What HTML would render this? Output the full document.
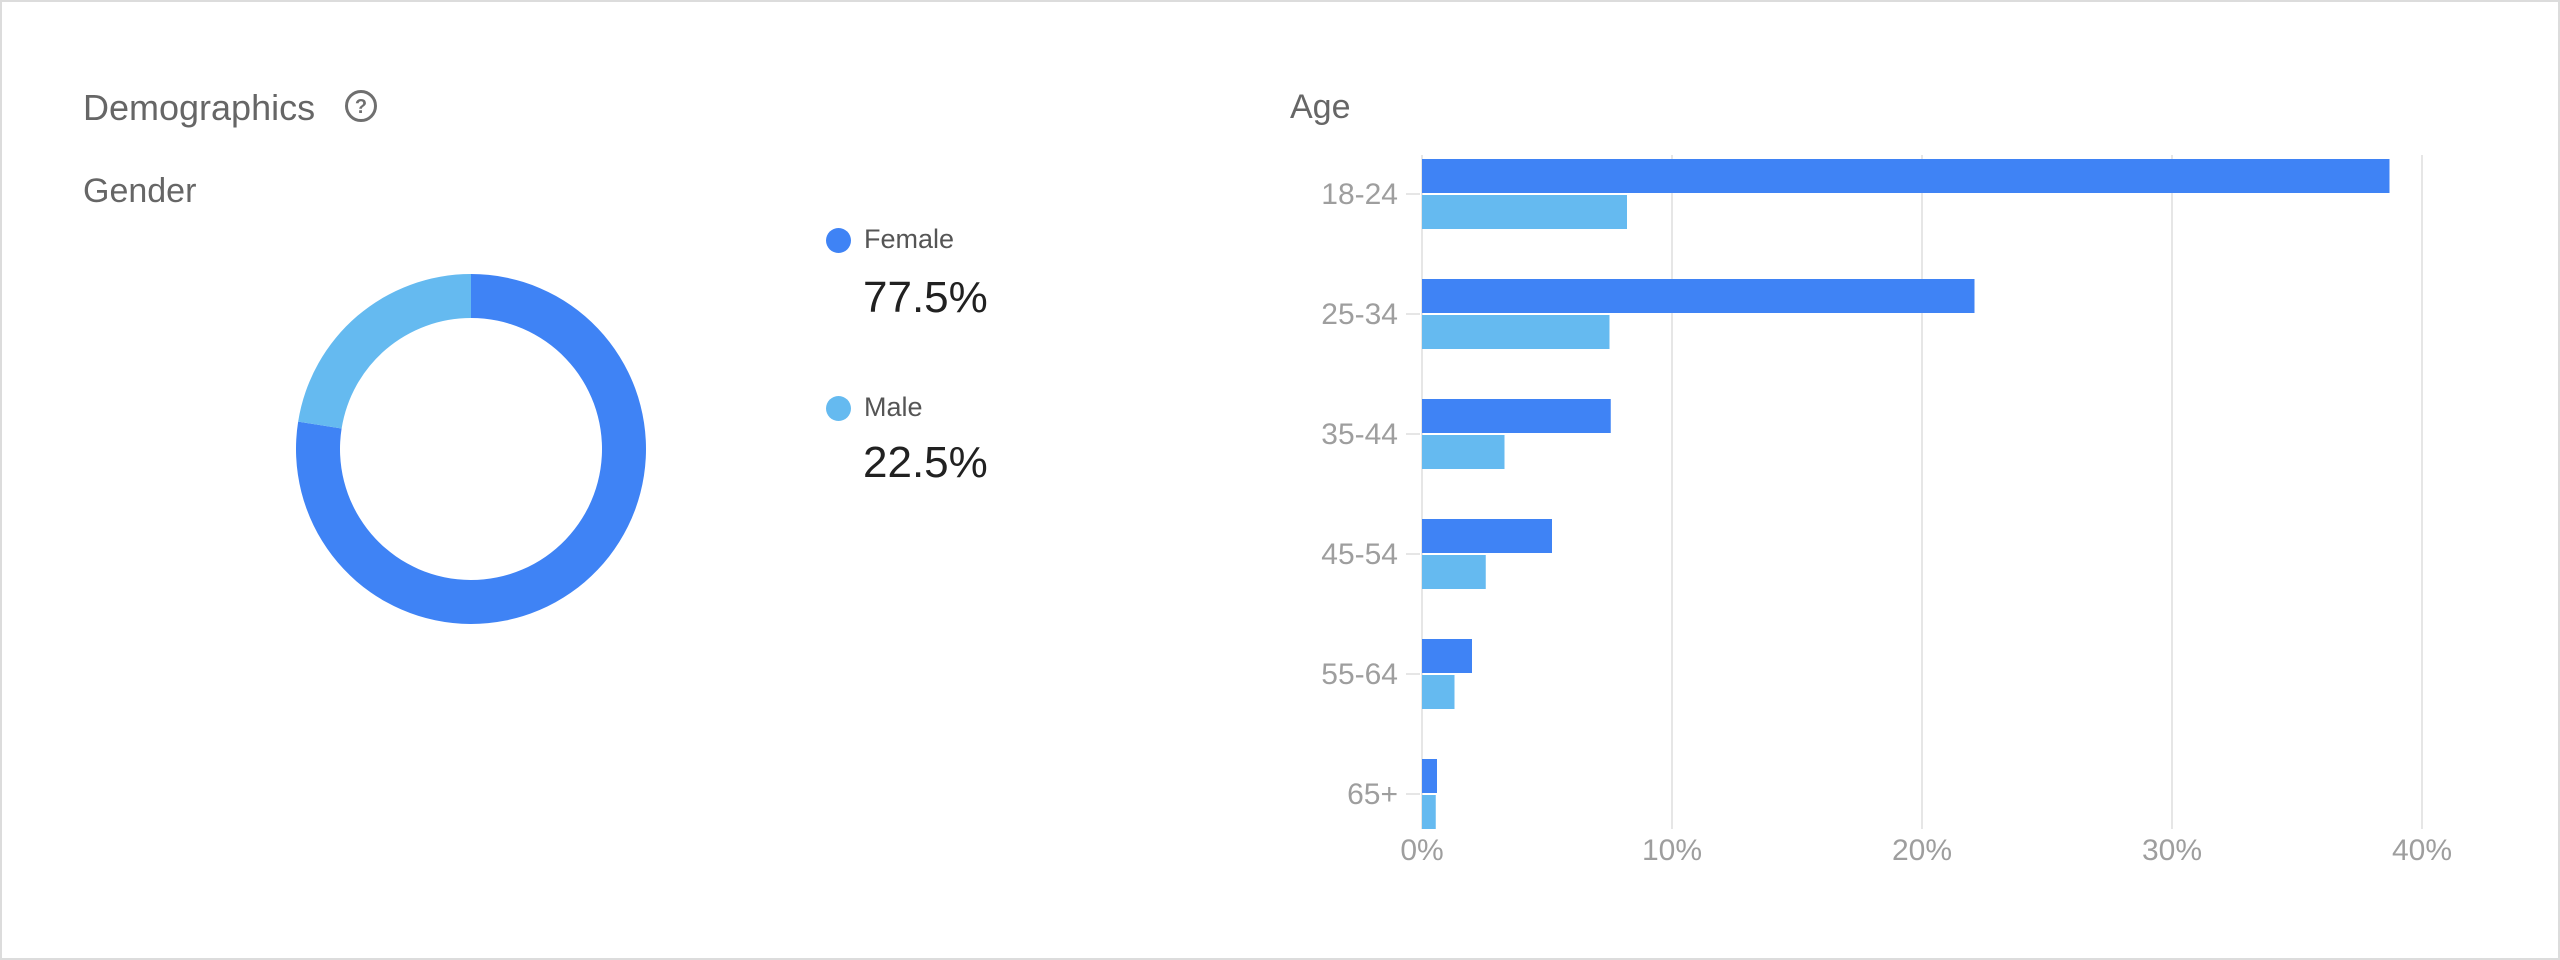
<!DOCTYPE html>
<html><head><meta charset="utf-8"><style>
html,body{margin:0;padding:0;background:#fff;}
body{width:2560px;height:960px;position:relative;overflow:hidden;font-family:"Liberation Sans",sans-serif;}
.frame{position:absolute;left:0;top:0;width:2556px;height:956px;border:2px solid #dcdcdc;}
.t{position:absolute;white-space:nowrap;}
</style></head><body>
<div class="frame"></div>
<div class="t" style="left:83px;top:87px;font-size:36px;color:#666;">Demographics</div>
<svg style="position:absolute;left:343px;top:88px" width="36" height="36" viewBox="0 0 36 36"><circle cx="18" cy="18" r="14.5" fill="none" stroke="#6f6f6f" stroke-width="3"/><text x="18" y="25" font-size="20" text-anchor="middle" fill="#6f6f6f" font-family="Liberation Sans" font-weight="bold">?</text></svg>
<div class="t" style="left:83px;top:172px;font-size:34px;color:#666;">Gender</div>
<div class="t" style="left:1290px;top:88px;font-size:34px;color:#666;">Age</div>

<div>
<div style="position:absolute;left:826px;top:228px;width:25px;height:25px;border-radius:50%;background:#3f83f5"></div>
<div class="t" style="left:864px;top:224px;font-size:27px;color:#555;">Female</div>
<div class="t" style="left:863px;top:273px;font-size:44px;color:#212121;">77.5%</div>
</div>
<div>
<div style="position:absolute;left:826px;top:396px;width:25px;height:25px;border-radius:50%;background:#65baf0"></div>
<div class="t" style="left:864px;top:392px;font-size:27px;color:#555;">Male</div>
<div class="t" style="left:863px;top:438px;font-size:44px;color:#212121;">22.5%</div>
</div>

<svg id="donut" style="position:absolute;left:0;top:0" width="1000" height="960"></svg>
<svg id="bars" style="position:absolute;left:0;top:0" width="2560" height="960"></svg>
<script>
const genderLabels=["Female","Male"];
const genderValues=[77.5,22.5];
const genderColors=["#3f83f5","#65baf0"];
const ageCats=["18-24","25-34","35-44","45-54","55-64","65+"];
const femaleVals=[38.7,22.1,7.55,5.2,2.0,0.6];
const maleVals=[8.2,7.5,3.3,2.55,1.3,0.55];
const xTicks=[0,10,20,30,40];
const NS="http://www.w3.org/2000/svg";
function mk(t,a){const e=document.createElementNS(NS,t);for(const k in a)e.setAttribute(k,a[k]);return e;}
const d=document.getElementById('donut');
const cx=471,cy=449,R=175,r=131;
let start=0;const tot=genderValues.reduce((a,b)=>a+b,0);
genderValues.forEach((v,i)=>{
  const a0=start/tot*2*Math.PI,a1=(start+v)/tot*2*Math.PI;start+=v;
  const p=(a,rad)=>[cx+rad*Math.sin(a),cy-rad*Math.cos(a)];
  const lg=(a1-a0)>Math.PI?1:0;
  const [x0,y0]=p(a0,R),[x1,y1]=p(a1,R),[x2,y2]=p(a1,r),[x3,y3]=p(a0,r);
  const path=mk('path',{d:`M${x0},${y0}A${R},${R} 0 ${lg} 1 ${x1},${y1}L${x2},${y2}A${r},${r} 0 ${lg} 0 ${x3},${y3}Z`,fill:genderColors[i]});
  
  
  d.appendChild(path);
});
const b=document.getElementById('bars');
const x0=1422,pxPer=25,top0=159,step=120,bh=34,gap=2,gTop=155,gBot=829;
const X=v=>x0+v*pxPer;
xTicks.forEach(t=>{
  const l=mk('line',{x1:X(t),x2:X(t),y1:gTop,y2:gBot,stroke:'#e6e6e6','stroke-width':2});
  
  
  b.appendChild(l);
  const tx=mk('text',{x:X(t),y:860,'font-size':30,'text-anchor':'middle',fill:'#9e9e9e','font-family':'Liberation Sans'});
  tx.textContent=t+'%';
  
  
  b.appendChild(tx);
});
ageCats.forEach((c,i)=>{
  const y=top0+i*step;
  const r1=mk('rect',{x:X(0),y:y,width:X(femaleVals[i])-X(0),height:bh,fill:'#3f83f5'});
  
  
  b.appendChild(r1);
  const r2=mk('rect',{x:X(0),y:y+bh+gap,width:X(maleVals[i])-X(0),height:bh,fill:'#65baf0'});
  
  
  b.appendChild(r2);
  const tk=mk('line',{x1:1406,x2:1420,y1:y+bh+1,y2:y+bh+1,stroke:'#e6e6e6','stroke-width':2});
  
  
  b.appendChild(tk);
  const tx=mk('text',{x:1398,y:y+bh+11,'font-size':30,'text-anchor':'end',fill:'#9e9e9e','font-family':'Liberation Sans'});
  tx.textContent=c;
  
  
  b.appendChild(tx);
});
</script>
</body></html>
